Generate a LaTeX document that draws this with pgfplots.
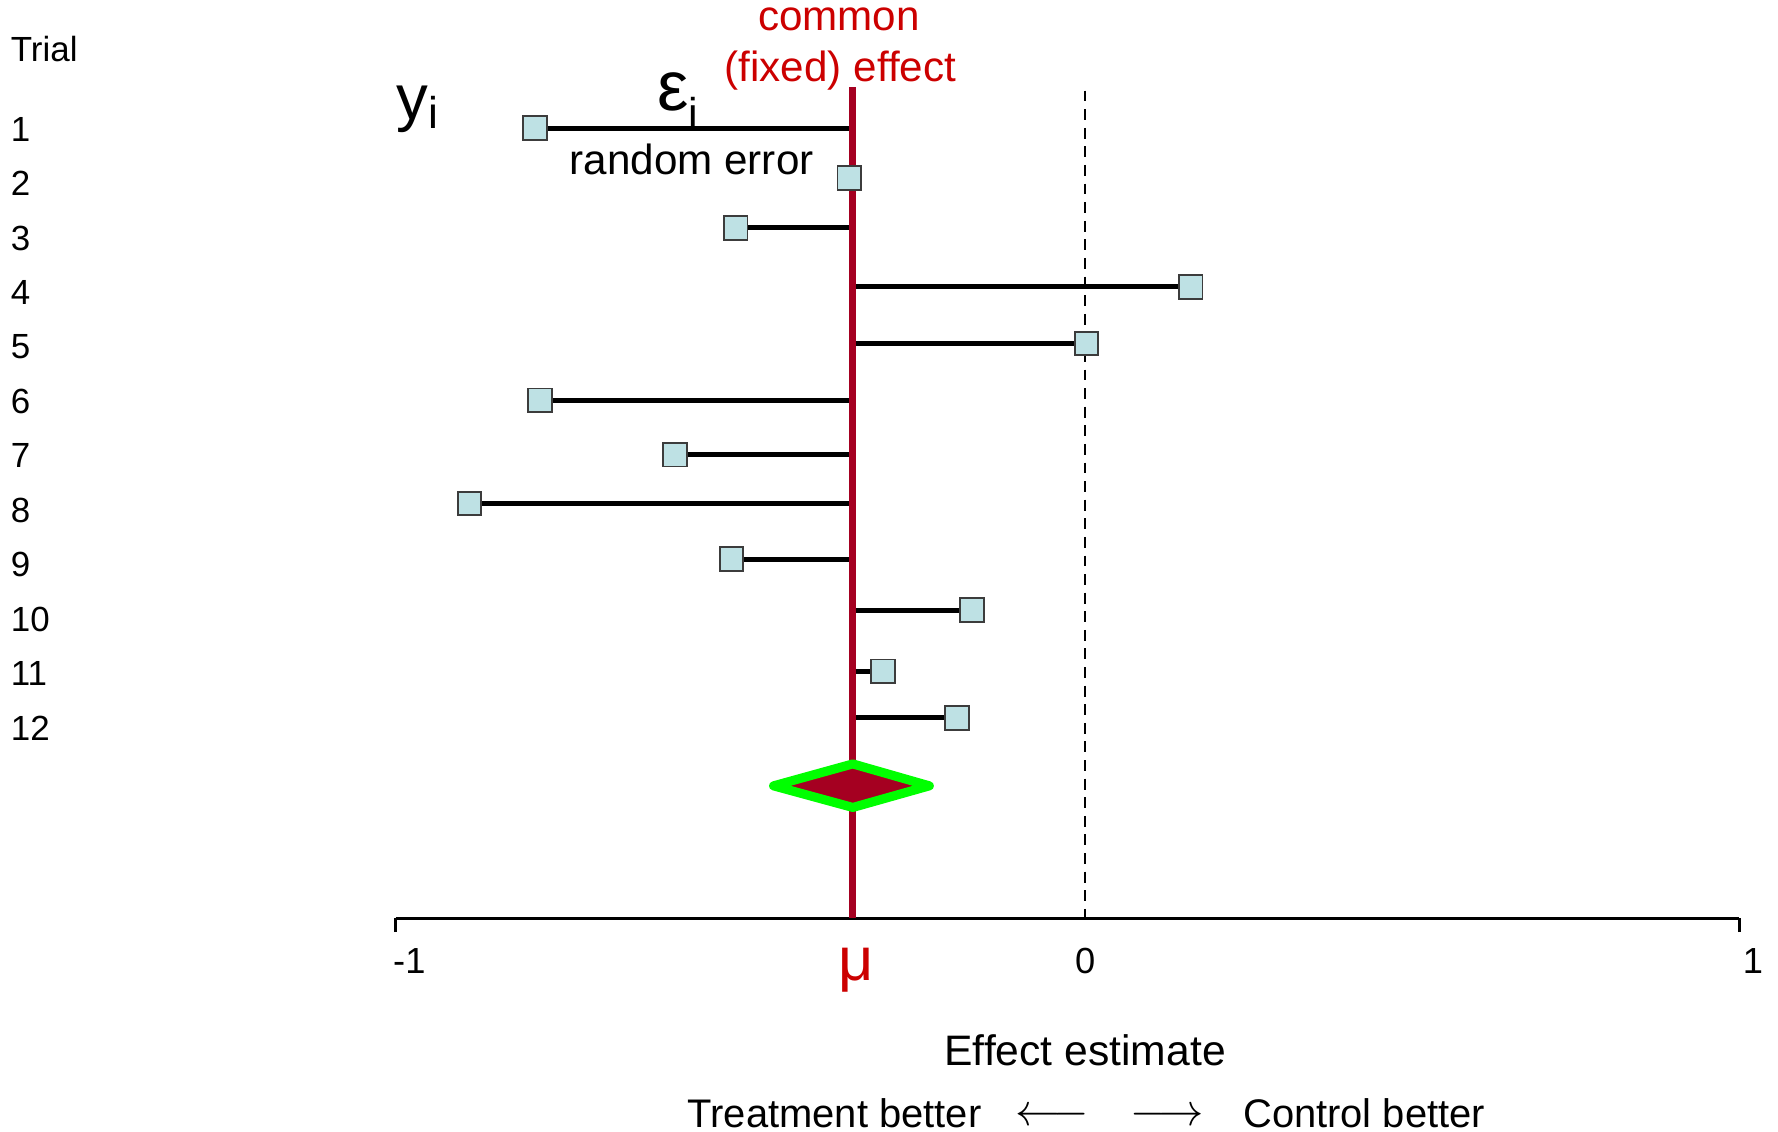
\documentclass[border=0pt]{standalone}
\usepackage{fontspec}
\setmainfont{Liberation Sans}
\usepackage{pgfplots}
\pgfplotsset{compat=1.18}
\definecolor{muline}{RGB}{165,0,33}
\definecolor{txtred}{RGB}{204,0,0}
\definecolor{sqfill}{RGB}{190,225,228}
\definecolor{sqedge}{RGB}{60,60,60}
\definecolor{glow}{RGB}{0,255,0}
\newcommand{\fs}[1]{\fontsize{#1}{#1}\selectfont}

% trial estimates y_i (row position, effect)
\pgfplotstableread{
row    est
1.000  -0.798
1.917  -0.342
2.833  -0.507
3.917   0.153
4.958   0.002
6.000  -0.791
7.000  -0.595
7.896  -0.893
8.917  -0.513
9.854  -0.164
10.979 -0.293
11.833 -0.186
}\trials

\begin{document}
\begin{tikzpicture}
\path[use as bounding box] (-87.25pt,-47pt) rectangle (304.75pt,202.5pt);
\begin{axis}[
  scale only axis, width=296.25pt, height=186.25pt,
  xmin=-1, xmax=0.949, ymin=0, ymax=15.52, y dir=reverse,
  axis x line=bottom, axis y line=none,
  x axis line style={-, line width=0.6pt},
  xtick={-1,0.949}, xticklabels={-1,1}, ytick=\empty,
  extra x ticks={0},
  extra x tick style={tick style={draw=none}, xticklabel style={xshift=-3pt}},
  tick align=outside, major tick length=3pt,
  tick style={black, line width=0.6pt},
  xticklabel style={font=\fs{8}, xshift=3pt},
  /pgf/number format/assume math mode=true,
  clip=false, unbounded coords=jump,
]
% null line
\addplot[black, line width=0.45pt, dash pattern=on 2.4pt off 1.7pt]
  coordinates {(0,0.31) (0,15.52)};
% random errors eps_i
\addplot[black, line width=1.1pt] coordinates {
  (-0.798,1.000) (-0.337,1.000) (nan,nan)
  (-0.507,2.833) (-0.337,2.833) (nan,nan)
  (0.153,3.917) (-0.337,3.917) (nan,nan)
  (0.002,4.958) (-0.337,4.958) (nan,nan)
  (-0.791,6.000) (-0.337,6.000) (nan,nan)
  (-0.595,7.000) (-0.337,7.000) (nan,nan)
  (-0.893,7.896) (-0.337,7.896) (nan,nan)
  (-0.513,8.917) (-0.337,8.917) (nan,nan)
  (-0.164,9.854) (-0.337,9.854) (nan,nan)
  (-0.293,10.979) (-0.337,10.979) (nan,nan)
  (-0.186,11.833) (-0.337,11.833)
};
\addplot[only marks, mark=square*, mark size=2.6pt,
  mark options={fill=sqfill, draw=sqedge, line width=0.4pt}]
  table[x=est, y=row] {\trials};
% common effect mu
\addplot[muline, line width=1.6pt] coordinates {(-0.337,0.25) (-0.337,15.52)};
\addplot[fill=muline, draw=glow, line width=2pt, line join=round]
  coordinates {(-0.452,13.083) (-0.337,12.68) (-0.226,13.083) (-0.337,13.48)} -- cycle;

\node[anchor=west, inner sep=0pt, font=\fs{7.7}] at (axis cs:-1.5595,-0.458) {Trial};
\pgfplotsinvokeforeach{1,...,12}{
  \node[anchor=west, inner sep=0pt, font=\fs{7.7}] at (axis cs:-1.5595,{#1+0.02}) {#1};
}
\node[anchor=base west, inner sep=0pt, font=\fs{14}] at (axis cs:-1.000,0.833) {y\textsubscript{i}};
\node[anchor=base west, font=\fs{15.5}, inner sep=0pt] at (axis cs:-0.622,0.667) {ε\raisebox{-4pt}{\fs{9.5}i}};
\node[font=\fs{9.3}] at (axis cs:-0.5707,1.583) {random error};
\node[anchor=base, font=\fs{9.3}, text=txtred] at (axis cs:-0.357,-0.802) {common};
\node[anchor=base, font=\fs{9.3}, text=txtred] at (axis cs:-0.355,0.146) {(fixed) effect};
\node[anchor=base, font=\fs{13.5}, text=txtred] at (axis cs:-0.332,16.667) {μ};
\node[font=\fs{9.4}] at (axis cs:0,17.94) {Effect estimate};
\node[font=\fs{8.8}] at (axis cs:-0.3635,19.10) {Treatment better};
\node[font=\fs{8.8}] at (axis cs:0.4046,19.10) {Control better};
\node[font=\fs{10}] at (axis cs:-0.0485,19.17) {$\longleftarrow$};
\node[font=\fs{10}] at (axis cs:0.119,19.17) {$\longrightarrow$};
\end{axis}
\end{tikzpicture}
\end{document}
